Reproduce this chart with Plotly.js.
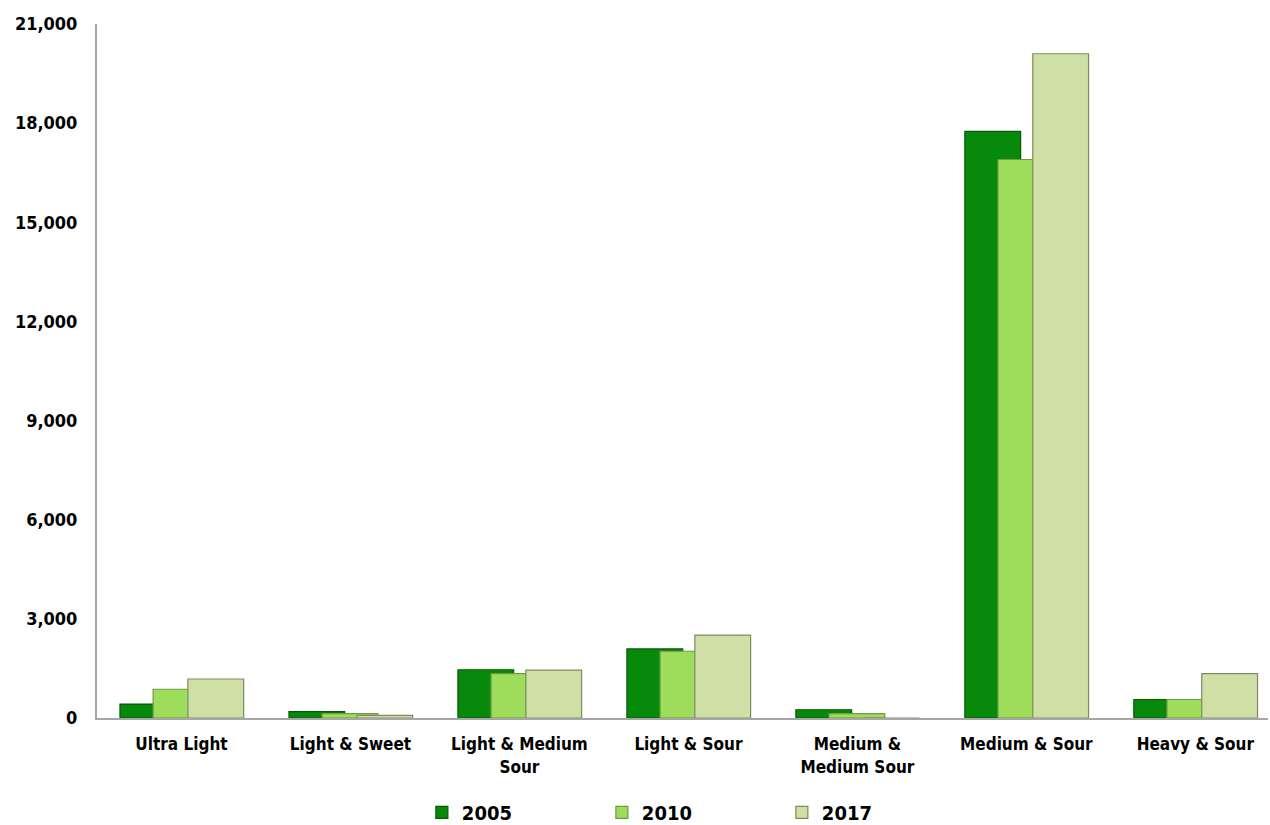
<!DOCTYPE html>
<html>
<head>
<meta charset="utf-8">
<script src="https://cdn.plot.ly/plotly-3.0.1.min.js"></script>
<style>html,body{margin:0;padding:0;background:#fff;}#chart{width:1270px;height:825px;}</style>
</head>
<body>
<div id="chart"></div>
<script>
const categories = ["Ultra Light", "Light & Sweet", "Light & Medium<br>Sour", "Light & Sour", "Medium &<br>Medium Sour", "Medium & Sour", "Heavy & Sour"];
const values2005 = [420, 190, 1460, 2090, 250, 17750, 560];
const values2010 = [870, 130, 1340, 2020, 130, 16900, 560];
const values2017 = [1180, 80, 1450, 2510, 0, 20100, 1340];
const yTicks = [0, 3000, 6000, 9000, 12000, 15000, 18000, 21000];

const idx = categories.map((c, i) => i);
const font = {family: "DejaVu Sans Condensed, DejaVu Sans, sans-serif", color: "#000"};

function mk(name, vals, color, line, offset) {
  return {
    type: "bar", name: name, x: idx, y: vals,
    width: 0.33, offset: offset,
    marker: {color: color, line: {color: line, width: 1.2}},
    hoverinfo: "y"
  };
}

const data = [
  mk("2005", values2005, "#078a0b", "#045a06", -0.364),
  mk("2010", values2010, "#9edc5c", "#6f9a45", -0.168),
  mk("2017", values2017, "#cfe0a6", "#7d8a62", 0.038)
];

const layout = {
  width: 1270, height: 825,
  margin: {l: 97, r: 2, t: 24, b: 107, autoexpand: false},
  paper_bgcolor: "#fff", plot_bgcolor: "#fff",
  barmode: "overlay",
  font: Object.assign({size: 15}, font),
  xaxis: {
    tickmode: "array", tickvals: idx, ticktext: categories,
    range: [-0.5, 6.43],
    showline: true, linecolor: "#a6a6a6", linewidth: 2,
    showgrid: false, zeroline: false, ticks: "",
    ticklabelstandoff: 10,
    tickfont: Object.assign({size: 17, weight: "bold"}, font)
  },
  yaxis: {
    range: [0, 21000], tickmode: "array", tickvals: yTicks,
    tickformat: ",d",
    showline: true, linecolor: "#a6a6a6", linewidth: 2,
    showgrid: false, zeroline: false, ticks: "",
    ticklabelstandoff: 14,
    tickfont: Object.assign({size: 18, weight: "bold"}, font)
  },
  showlegend: true,
  legend: {
    orientation: "h", x: 0.508, xanchor: "center", y: -0.136, yanchor: "middle",
    font: Object.assign({size: 20, weight: "bold"}, font),
    entrywidth: 135, entrywidthmode: "pixels",
    traceorder: "normal"
  }
};

Plotly.newPlot("chart", data, layout, {displayModeBar: false, staticPlot: true});
</script>
</body>
</html>
